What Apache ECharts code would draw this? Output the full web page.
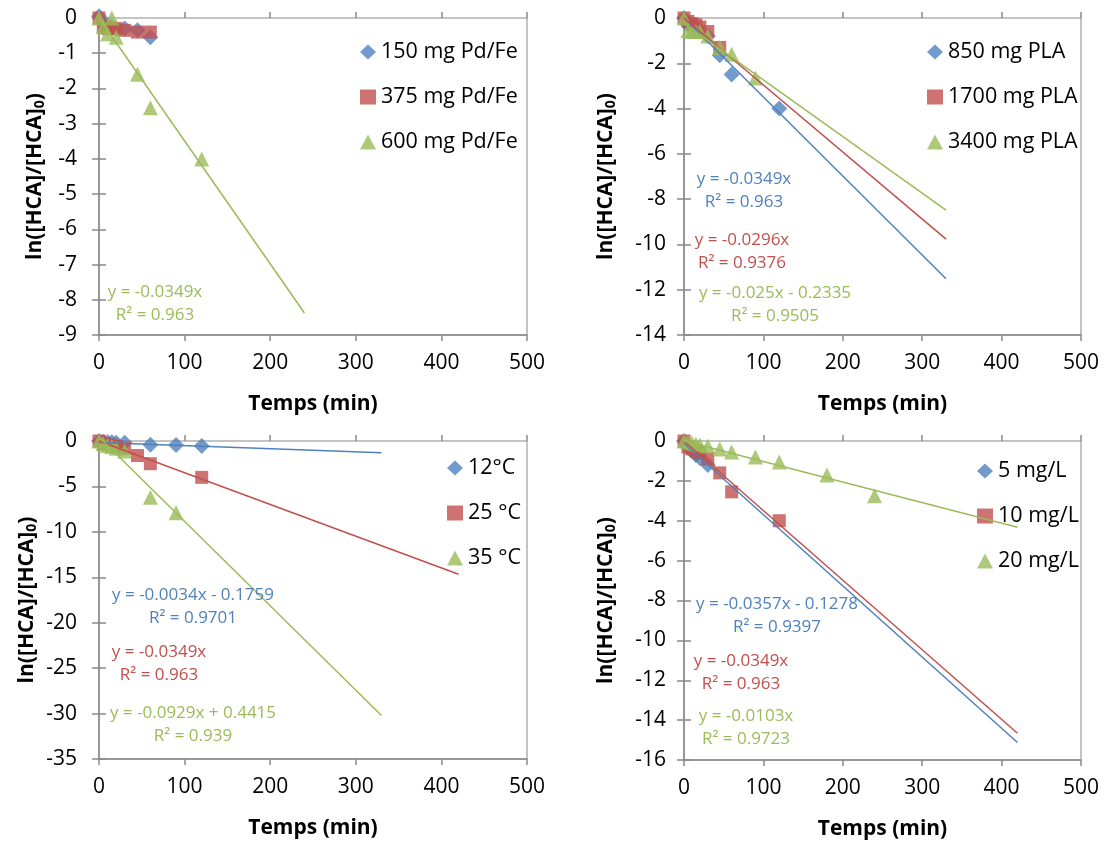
<!DOCTYPE html>
<html><head><meta charset="utf-8">
<script src="https://cdn.jsdelivr.net/npm/echarts@6/dist/echarts.min.js"></script>
<style>html,body{margin:0;padding:0;background:#fff}#c{width:1114px;height:847px}</style>
</head><body><div id="c"></div>
<script>
// ================= DATA =================
const xTicks = [0, 100, 200, 300, 400, 500];

// Panel A : Pd/Fe dose
const namesA = ['150 mg Pd/Fe', '375 mg Pd/Fe', '600 mg Pd/Fe'];
const tA1 = [0, 5, 10, 15, 20, 30, 45, 60];
const yA1 = [0.05, -0.15, -0.2, -0.25, -0.3, -0.3, -0.35, -0.55];
const tA2 = [0, 5, 10, 15, 20, 30, 45, 60];
const yA2 = [0, -0.25, -0.3, -0.3, -0.3, -0.35, -0.4, -0.4];
const tA3 = [0, 5, 10, 15, 20, 45, 60, 120];
const yA3 = [0, -0.25, -0.45, 0, -0.55, -1.6, -2.55, -4.0];
const fitA3 = [-0.0349, 0, 240];           // slope, intercept, x end
const eqA3 = 'y = -0.0349x\nR² = 0.963';

// Panel B : PLA mass
const namesB = ['850 mg PLA', '1700 mg PLA', '3400 mg PLA'];
const tB1 = [0, 5, 10, 15, 20, 30, 45, 60, 120];
const yB1 = [0, -0.3, -0.4, -0.5, -0.6, -0.8, -1.65, -2.5, -4.0];
const tB2 = [0, 5, 10, 15, 20, 30, 45];
const yB2 = [0, -0.15, -0.25, -0.3, -0.4, -0.6, -1.3];
const tB3 = [0, 5, 10, 15, 20, 30, 45, 60, 90];
const yB3 = [0, -0.55, -0.6, -0.6, -0.6, -0.8, -1.3, -1.6, -2.65];
const fitB1 = [-0.0349, 0, 330];
const fitB2 = [-0.0296, 0, 330];
const fitB3 = [-0.025, -0.2335, 330];
const eqB1 = 'y = -0.0349x\nR² = 0.963';
const eqB2 = 'y = -0.0296x\nR² = 0.9376';
const eqB3 = 'y = -0.025x - 0.2335\nR² = 0.9505';

// Panel C : temperature
const namesC = ['12°C', '25 °C', '35 °C'];
const tC1 = [0, 5, 10, 15, 20, 30, 60, 90, 120];
const yC1 = [0, -0.1, -0.15, -0.15, -0.2, -0.2, -0.4, -0.45, -0.55];
const tC2 = [0, 5, 10, 15, 20, 30, 45, 60, 120];
const yC2 = [0, -0.3, -0.4, -0.5, -0.6, -0.8, -1.6, -2.5, -4.0];
const tC3 = [0, 5, 10, 15, 20, 30, 60, 90];
const yC3 = [0, -0.3, -0.5, -0.6, -0.8, -1.1, -6.2, -7.9];
const fitC1 = [-0.0034, -0.1759, 330];
const fitC2 = [-0.0349, 0, 420];
const fitC3 = [-0.0929, 0.4415, 330];
const eqC1 = 'y = -0.0034x - 0.1759\nR² = 0.9701';
const eqC2 = 'y = -0.0349x\nR² = 0.963';
const eqC3 = 'y = -0.0929x + 0.4415\nR² = 0.939';

// Panel D : initial concentration
const namesD = ['5 mg/L', '10 mg/L', '20 mg/L'];
const tD1 = [0, 5, 10, 15, 20, 30];
const yD1 = [0, -0.3, -0.5, -0.7, -0.85, -1.2];
const tD2 = [0, 5, 10, 15, 20, 30, 45, 60, 120];
const yD2 = [0, -0.3, -0.4, -0.5, -0.6, -0.9, -1.6, -2.55, -4.0];
const tD3 = [0, 5, 10, 15, 20, 30, 45, 60, 90, 120, 180, 240];
const yD3 = [0, -0.05, -0.1, -0.15, -0.2, -0.25, -0.4, -0.55, -0.8, -1.05, -1.7, -2.75];
const fitD1 = [-0.0357, -0.1278, 420];
const fitD2 = [-0.0349, 0, 420];
const fitD3 = [-0.0103, 0, 420];
const eqD1 = 'y = -0.0357x - 0.1278\nR² = 0.9397';
const eqD2 = 'y = -0.0349x\nR² = 0.963';
const eqD3 = 'y = -0.0103x\nR² = 0.9723';

// ================= STYLE =================
const FONT = '"Open Sans", sans-serif';
const BLUE = '#4F81BD', RED = '#C0504D', GREEN = '#9BBB59';
const AX = '#898989';
const SYM = ['diamond', 'rect', 'triangle'];
const SYMSIZE = [16, 13, 15];
const COLORS = [BLUE, RED, GREEN];

const grids = [
  {left: 99, top: 18, width: 428, height: 317},
  {left: 684, top: 18, width: 397, height: 317},
  {left: 99, top: 441, width: 428, height: 318},
  {left: 684, top: 441, width: 397, height: 319}
];
const yMins = [-9, -14, -35, -16];
const yInts = [1, 2, 5, 2];
const yNameGaps = [52, 66, 60, 66];
const yLabelMargins = [22, 18, 22, 18];

const xAxes = [], yAxes = [], series = [], legends = [], graphics = [];
grids.forEach((g, gi) => {
  g.show = true; g.borderColor = AX; g.borderWidth = 1; g.containLabel = false;
  const xmin = xTicks[0], xmax = xTicks[xTicks.length - 1], xint = xTicks[1] - xTicks[0];
  xAxes.push({
    gridIndex: gi, type: 'value', min: xmin, max: xmax, interval: xint, position: 'bottom',
    axisLine: {show: true, onZero: false, lineStyle: {color: AX, width: 1.5}},
    axisTick: {show: true, length: 6, lineStyle: {color: AX, width: 1.5}},
    axisLabel: {fontSize: 21, color: '#000', margin: 18, fontFamily: FONT},
    splitLine: {show: false},
    name: 'Temps (min)', nameLocation: 'middle', nameGap: 59,
    nameTextStyle: {fontSize: 21, fontWeight: 'bold', color: '#000', fontFamily: FONT}
  });
  xAxes.push({
    gridIndex: gi, type: 'value', min: xmin, max: xmax, interval: xint, position: 'bottom',
    axisLine: {show: false}, axisTick: {show: true, inside: true, length: 6, lineStyle: {color: AX, width: 1.5}},
    axisLabel: {show: false}, splitLine: {show: false}
  });
  yAxes.push({
    gridIndex: gi, type: 'value', min: yMins[gi], max: 0, interval: yInts[gi], position: 'left',
    axisLine: {show: true, onZero: false, lineStyle: {color: AX, width: 1.5}},
    axisTick: {show: true, length: 7, lineStyle: {color: AX, width: 1.5}},
    axisLabel: {fontSize: 21, color: '#000', margin: yLabelMargins[gi], fontFamily: FONT},
    splitLine: {show: false},
    name: '{a|ln([HCA]/[HCA]}{s|0}{a|)}', nameLocation: 'middle', nameGap: yNameGaps[gi], nameRotate: 90,
    nameTextStyle: {
      color: '#000',
      rich: {
        a: {fontSize: 21, fontWeight: 'bold', fontFamily: FONT, color: '#000', lineHeight: 24},
        s: {fontSize: 14, fontWeight: 'bold', fontFamily: FONT, color: '#000', lineHeight: 10, verticalAlign: 'bottom'}
      }
    }
  });
  yAxes.push({
    gridIndex: gi, type: 'value', min: yMins[gi], max: 0, interval: yInts[gi], position: 'left',
    axisLine: {show: false}, axisTick: {show: true, inside: true, length: 7, lineStyle: {color: AX, width: 1.5}},
    axisLabel: {show: false}, splitLine: {show: false}
  });
});

function scatter(name, t, y, k, gi) {
  return {type: 'scatter', name, xAxisIndex: gi * 2, yAxisIndex: gi * 2,
    data: t.map((x, i) => [x, y[i]]), symbol: SYM[k], symbolSize: SYMSIZE[k],
    itemStyle: {color: COLORS[k]}, clip: false, z: 3, silent: true};
}
function trend(id, fit, k, gi) {
  const m = fit[0], b = fit[1], xe = fit[2];
  return {type: 'line', name: id, xAxisIndex: gi * 2, yAxisIndex: gi * 2,
    data: [[0, b], [xe, m * xe + b]], symbol: 'none', showSymbol: false,
    lineStyle: {color: COLORS[k], width: 1.5}, z: 4, silent: true, clip: false};
}

const panelSeries = [
  [[namesA[0], tA1, yA1], [namesA[1], tA2, yA2], [namesA[2], tA3, yA3]],
  [[namesB[0], tB1, yB1], [namesB[1], tB2, yB2], [namesB[2], tB3, yB3]],
  [[namesC[0], tC1, yC1], [namesC[1], tC2, yC2], [namesC[2], tC3, yC3]],
  [[namesD[0], tD1, yD1], [namesD[1], tD2, yD2], [namesD[2], tD3, yD3]]
];
const panelFits = [
  [null, null, fitA3],
  [fitB1, fitB2, fitB3],
  [fitC1, fitC2, fitC3],
  [fitD1, fitD2, fitD3]
];
const panelEqs = [
  [null, null, eqA3],
  [eqB1, eqB2, eqB3],
  [eqC1, eqC2, eqC3],
  [eqD1, eqD2, eqD3]
];
// label anchor (centre) positions in pixels
const eqPos = [
  [null, null, [155, 304]],
  [[744, 191], [742, 252], [775, 305]],
  [[193, 607], [159, 664], [193, 725]],
  [[777, 616], [741, 673], [746, 728]]
];
const legendPos = [[355, 36], [922, 36], [442, 452], [972, 455]];

panelSeries.forEach((ps, gi) => {
  ps.forEach((s, k) => series.push(scatter(s[0], s[1], s[2], k, gi)));
  panelFits[gi].forEach((f, k) => { if (f) series.push(trend('fit' + gi + k, f, k, gi)); });
  panelEqs[gi].forEach((e, k) => {
    if (!e) return;
    graphics.push({type: 'text', x: eqPos[gi][k][0], y: eqPos[gi][k][1], z: 10,
      style: {text: e, fill: COLORS[k], font: '17px ' + FONT, align: 'center', verticalAlign: 'middle', lineHeight: 23}});
  });
  legends.push({
    data: ps.map((s, k) => ({name: s[0], icon: SYM[k]})),
    orient: 'vertical', left: legendPos[gi][0], top: legendPos[gi][1],
    itemGap: 23, itemWidth: 16, itemHeight: 15, selectedMode: false,
    textStyle: {fontSize: 21.5, lineHeight: 21, fontFamily: FONT, color: '#000'}
  });
});

const chart = echarts.init(document.getElementById('c'), null, {renderer: 'canvas'});
chart.setOption({
  animation: false,
  backgroundColor: '#fff',
  grid: grids,
  xAxis: xAxes,
  yAxis: yAxes,
  legend: legends,
  series: series,
  graphic: graphics
});
</script></body></html>
